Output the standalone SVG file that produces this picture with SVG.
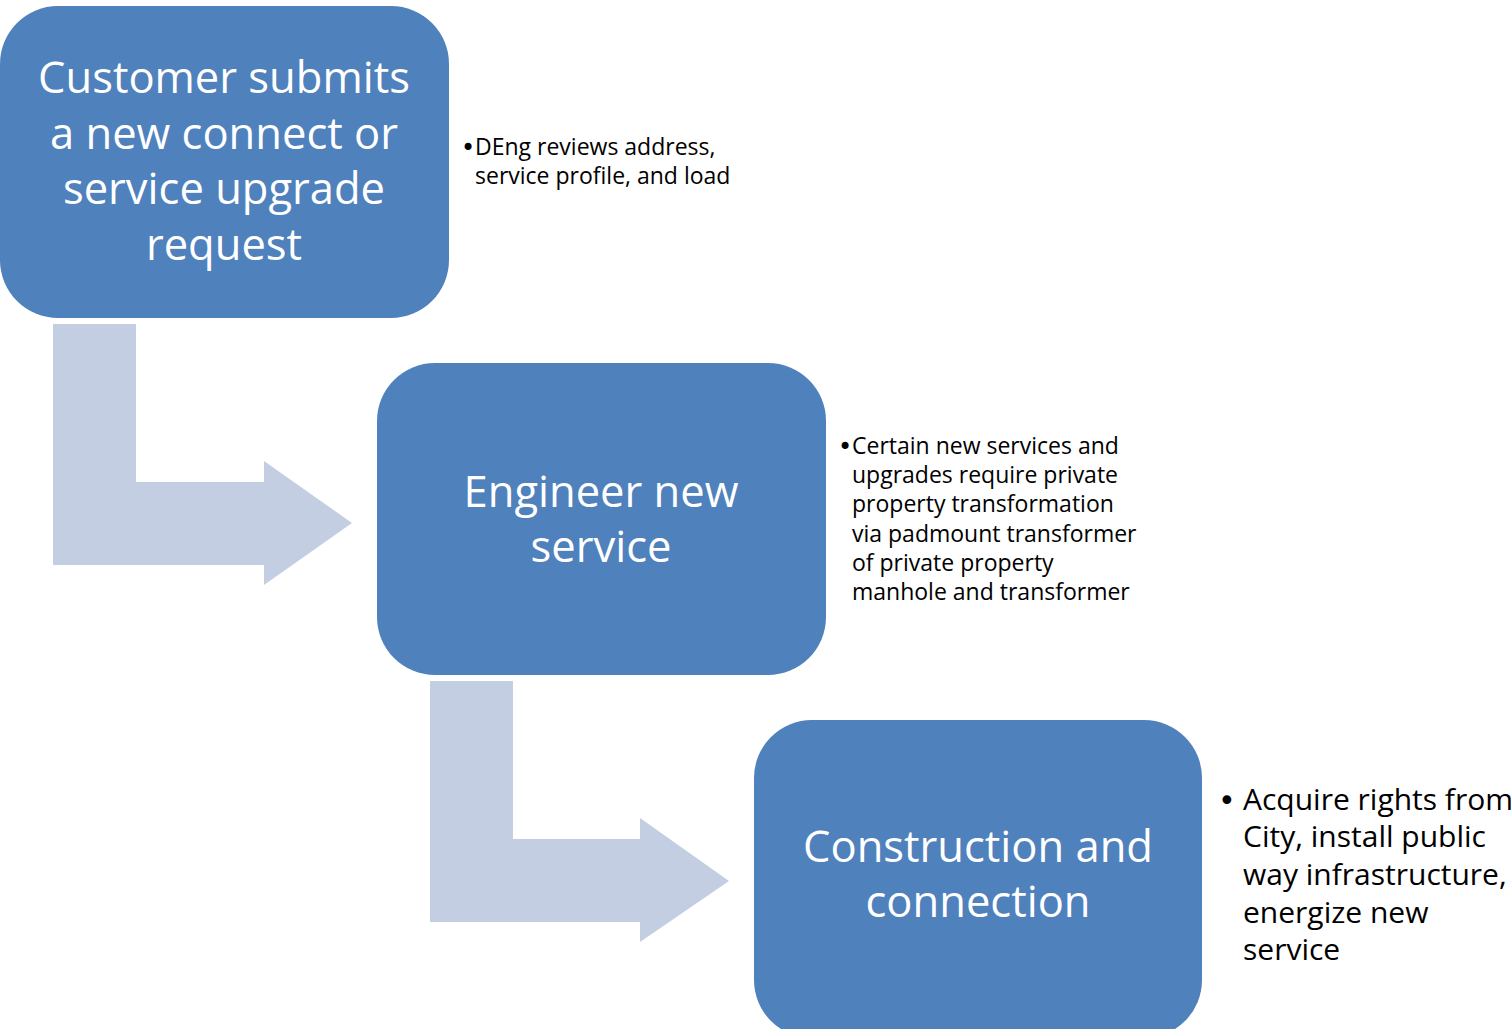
<svg xmlns="http://www.w3.org/2000/svg" width="1511" height="1029" viewBox="0 0 1511 1029">
<style>
.box{fill:#4F81BD;}
.arr{fill:#C3CEE3;}
.t{font-family:"Open Sans","Noto Sans",sans-serif;fill:#FFFFFF;text-anchor:middle;font-size:43.5px;}
.n{font-family:"Open Sans","Noto Sans",sans-serif;fill:#000000;font-size:23px;}
.n3{font-family:"Open Sans","Noto Sans",sans-serif;fill:#000000;font-size:30px;}
.b{font-family:"DejaVu Sans",sans-serif;fill:#000000;font-size:24px;}
.b3{font-family:"DejaVu Sans",sans-serif;fill:#000000;font-size:30px;}
</style>
<rect width="1511" height="1029" fill="#FFFFFF"/>
<g id="connectors">
<path class="arr" d="M53,324 H136 V482 H264 V461 L352,523 L264,585 V565 H53 Z"/>
<path class="arr" d="M430,681 H513 V839 H640 V818 L729,881 L640,942 V922 H430 Z"/>
</g>
<g id="node1">
<rect class="box" x="0" y="6" width="449" height="312" rx="58"/>
<text class="t" x="224" y="93">Customer submits</text>
<text class="t" x="224" y="149">a new connect or</text>
<text class="t" x="224" y="204">service upgrade</text>
<text class="t" x="224" y="260">request</text>
</g>
<g id="note1">
<text class="b" x="461" y="156">•</text>
<text class="n" x="475" y="155">DEng reviews address,</text>
<text class="n" x="475" y="184">service profile, and load</text>
</g>
<g id="node2">
<rect class="box" x="377" y="363" width="449" height="312" rx="58"/>
<text class="t" x="601" y="507">Engineer new</text>
<text class="t" x="601" y="562">service</text>
</g>
<g id="note2">
<text class="b" x="838" y="455">•</text>
<text class="n" x="852" y="454">Certain new services and</text>
<text class="n" x="852" y="483">upgrades require private</text>
<text class="n" x="852" y="512">property transformation</text>
<text class="n" x="852" y="542">via padmount transformer</text>
<text class="n" x="852" y="571">of private property</text>
<text class="n" x="852" y="600">manhole and transformer</text>
</g>
<g id="node3">
<rect class="box" x="754" y="720" width="448" height="318" rx="58"/>
<text class="t" x="978" y="862">Construction and</text>
<text class="t" x="978" y="917">connection</text>
</g>
<g id="note3">
<text class="b3" x="1218" y="811">•</text>
<text class="n3" x="1243" y="810">Acquire rights from</text>
<text class="n3" x="1243" y="847">City, install public</text>
<text class="n3" x="1243" y="885">way infrastructure,</text>
<text class="n3" x="1243" y="923">energize new</text>
<text class="n3" x="1243" y="960">service</text>
</g>
</svg>
